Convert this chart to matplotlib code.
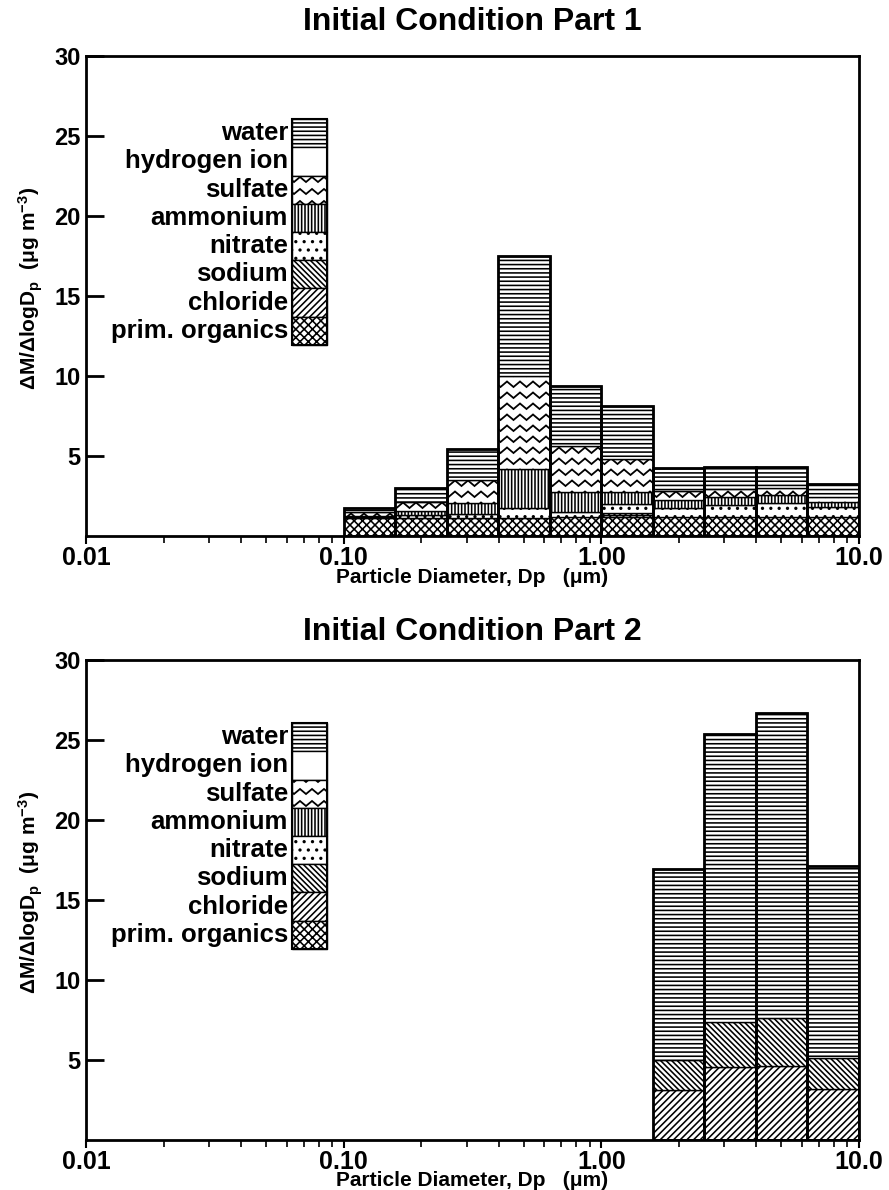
import numpy as np
import matplotlib
matplotlib.use("Agg")
import matplotlib.pyplot as plt
from matplotlib.lines import Line2D
from matplotlib.patches import Rectangle
from matplotlib.transforms import IdentityTransform, blended_transform_factory
from matplotlib.ticker import FixedLocator, FixedFormatter, LogLocator, NullFormatter

plt.rcParams["font.family"] = ["Liberation Sans", "DejaVu Sans"]
plt.rcParams["font.weight"] = "bold"
plt.rcParams["mathtext.fontset"] = "custom"
plt.rcParams["mathtext.rm"] = "Liberation Sans:bold"
plt.rcParams["mathtext.it"] = "Liberation Sans:bold"
plt.rcParams["mathtext.bf"] = "Liberation Sans:bold"
plt.rcParams["hatch.linewidth"] = 1.15
plt.rcParams["hatch.color"] = "black"

# ---- size bins (particle diameter, um) ----
bin_edges = [0.1, 0.1585, 0.2512, 0.3981, 0.6310, 1.0, 1.585, 2.512, 3.981, 6.310, 10.0]

# stacking order, bottom to top
species = ["prim. organics", "chloride", "sodium", "nitrate",
           "ammonium", "sulfate", "hydrogen ion", "water"]

# ---- Part 1 composition, dM/dlogDp (ug m-3) per bin ----
p1_organics = [1.10, 1.12, 1.10, 1.15, 1.18, 1.20, 1.18, 1.18, 1.18, 1.18]
p1_chloride = [0.00, 0.00, 0.00, 0.00, 0.00, 0.10, 0.00, 0.00, 0.00, 0.00]
p1_sodium = [0.00, 0.00, 0.00, 0.00, 0.00, 0.12, 0.00, 0.00, 0.00, 0.00]
p1_nitrate = [0.07, 0.19, 0.30, 0.60, 0.34, 0.58, 0.55, 0.76, 0.91, 0.62]
p1_ammonium = [0.08, 0.24, 0.66, 2.42, 1.21, 0.73, 0.49, 0.47, 0.49, 0.34]
p1_sulfate = [0.25, 0.57, 1.44, 5.83, 2.87, 2.08, 0.62, 0.55, 0.42, 0.32]
p1_hydrogen = [0.00, 0.00, 0.00, 0.00, 0.00, 0.00, 0.00, 0.00, 0.00, 0.00]
p1_water = [0.22, 0.86, 1.93, 7.52, 3.79, 3.29, 1.44, 1.37, 1.30, 0.81]

# ---- Part 2 composition ----
p2_organics = [0.0, 0.0, 0.0, 0.0, 0.0, 0.0, 0.00, 0.00, 0.00, 0.00]
p2_chloride = [0.0, 0.0, 0.0, 0.0, 0.0, 0.0, 3.10, 4.55, 4.63, 3.17]
p2_sodium = [0.0, 0.0, 0.0, 0.0, 0.0, 0.0, 1.90, 2.85, 2.97, 1.93]
p2_nitrate = [0.0, 0.0, 0.0, 0.0, 0.0, 0.0, 0.00, 0.00, 0.00, 0.00]
p2_ammonium = [0.0, 0.0, 0.0, 0.0, 0.0, 0.0, 0.00, 0.00, 0.00, 0.00]
p2_sulfate = [0.0, 0.0, 0.0, 0.0, 0.0, 0.0, 0.00, 0.00, 0.00, 0.00]
p2_hydrogen = [0.0, 0.0, 0.0, 0.0, 0.0, 0.0, 0.00, 0.00, 0.00, 0.00]
p2_water = [0.0, 0.0, 0.0, 0.0, 0.0, 0.0, 11.94, 18.00, 19.07, 12.04]

titles = ["Initial Condition Part 1", "Initial Condition Part 2"]
x_tick_values = [0.01, 0.1, 1.0, 10.0]
x_tick_labels = ["0.01", "0.10", "1.00", "10.0"]
y_tick_values = [5, 10, 15, 20, 25, 30]

HATCH = {
    "prim. organics": "xxxx",
    "chloride": "/////",
    "sodium": "\\\\\\\\\\\\",
    "nitrate": "..",
    "ammonium": "|||||",
    "sulfate": None,       # zigzag texture drawn separately
    "hydrogen ion": None,
    "water": "----",
}

W, H = 889, 1190
fig = plt.figure(figsize=(W / 100, H / 100), dpi=100)


def px_axes(left, top, right, bottom):
    return fig.add_axes([left / W, 1 - bottom / H, (right - left) / W, (bottom - top) / H])


def add_zigzag(ax, patch, pitch=11.0, period=13.0, amp=5.5, lw=1.3):
    """Fill a patch with rows of zigzag lines (pixel-based texture)."""
    bb = patch.get_window_extent()
    half = period / 2.0
    n0 = int(np.floor((bb.x0 - period) / half))
    n1 = int(np.ceil((bb.x1 + period) / half))
    idx = np.arange(n0, n1 + 1)
    xs = idx * half
    offs = np.where(idx % 2 == 0, amp, 0.0)
    k0 = int(np.floor(bb.y0 / pitch)) - 1
    k1 = int(np.ceil(bb.y1 / pitch)) + 1
    for k in range(k0, k1 + 1):
        ln = Line2D(xs, k * pitch + offs, transform=IdentityTransform(),
                    color="black", lw=lw, solid_joinstyle="miter")
        ax.add_artist(ln)
        ln.set_clip_path(patch)


def setup_axes(ax):
    ax.set_xscale("log")
    ax.set_xlim(0.01, 10.0)
    ax.set_ylim(0, 30)
    ax.set_autoscale_on(False)
    for s in ax.spines.values():
        s.set_linewidth(2.0)
    ax.xaxis.set_major_locator(FixedLocator(x_tick_values))
    ax.xaxis.set_major_formatter(FixedFormatter(x_tick_labels))
    ax.xaxis.set_minor_locator(LogLocator(base=10, subs=np.arange(2, 10)))
    ax.xaxis.set_minor_formatter(NullFormatter())
    ax.yaxis.set_major_locator(FixedLocator(y_tick_values))
    ax.yaxis.set_minor_locator(FixedLocator([]))
    ax.tick_params(axis="x", which="major", direction="out", length=6, width=1.5,
                   labelsize=18, pad=1)
    ax.tick_params(axis="x", which="minor", direction="out", length=5, width=1.2)
    ax.tick_params(axis="y", which="major", direction="in", length=13, width=2,
                   labelsize=17, pad=4)


def draw_stack(ax, layers):
    lefts = np.array(bin_edges[:-1])
    widths = np.diff(bin_edges)
    bottom = np.zeros(len(lefts))
    for name in species:
        h = np.asarray(layers[name], dtype=float)
        m = h > 0
        if m.any():
            bars = ax.bar(lefts[m], h[m], width=widths[m], bottom=bottom[m], align="edge",
                          color="white", edgecolor="black", linewidth=1.0,
                          hatch=HATCH[name])
            if name == "sulfate":
                for b in bars:
                    add_zigzag(ax, b)
        bottom += h
    m = bottom > 0
    ax.bar(lefts[m], bottom[m], width=widths[m], align="edge", fill=False,
           edgecolor="black", linewidth=2.0)


def draw_key(ax, top=26.06, step=1.765, x0=0.2665, x1=0.3118, xt=0.2613):
    tr = blended_transform_factory(ax.transAxes, ax.transData)
    for i, name in enumerate(reversed(species)):
        y = top - (i + 1) * step
        r = Rectangle((x0, y), x1 - x0, step, transform=tr, facecolor="white",
                      edgecolor="black", linewidth=1.0, hatch=HATCH[name])
        ax.add_patch(r)
        if name == "sulfate":
            add_zigzag(ax, r, pitch=12.0, period=12.0, amp=5.0)
        ax.text(xt, y + step / 2, name, transform=tr, ha="right", va="center",
                fontsize=18.5)
    frame = Rectangle((x0, top - len(species) * step), x1 - x0, len(species) * step,
                      transform=tr, fill=False, edgecolor="black", linewidth=1.5)
    ax.add_patch(frame)


panels = [
    dict(organics=p1_organics, chloride=p1_chloride, sodium=p1_sodium, nitrate=p1_nitrate,
         ammonium=p1_ammonium, sulfate=p1_sulfate, hydrogen=p1_hydrogen, water=p1_water),
    dict(organics=p2_organics, chloride=p2_chloride, sodium=p2_sodium, nitrate=p2_nitrate,
         ammonium=p2_ammonium, sulfate=p2_sulfate, hydrogen=p2_hydrogen, water=p2_water),
]
boxes = [(86, 56, 859, 536), (86, 660, 859, 1140)]
title_y = [22, 632]
xlabel_y = [577, 1180]

for p, box, ty, xy, title in zip(panels, boxes, title_y, xlabel_y, titles):
    ax = px_axes(*box)
    setup_axes(ax)
    layers = {
        "prim. organics": p["organics"], "chloride": p["chloride"], "sodium": p["sodium"],
        "nitrate": p["nitrate"], "ammonium": p["ammonium"], "sulfate": p["sulfate"],
        "hydrogen ion": p["hydrogen"], "water": p["water"],
    }
    draw_stack(ax, layers)
    draw_key(ax)
    cx = (box[0] + box[2]) / 2
    fig.text(cx / W, 1 - ty / H, title, ha="center", va="center", fontsize=23)
    fig.text(cx / W, 1 - xy / H, "Particle Diameter, Dp   (\u03bcm)", ha="center",
             va="center", fontsize=15)
    fig.text(31 / W, 1 - ((box[1] + box[3]) / 2 - 8) / H,
             "\u0394M/\u0394logD$_{p}$  (\u03bcg m$^{-3}$)", rotation=90,
             ha="center", va="center", fontsize=15)

fig.savefig("out.png", dpi=100, facecolor="white")
